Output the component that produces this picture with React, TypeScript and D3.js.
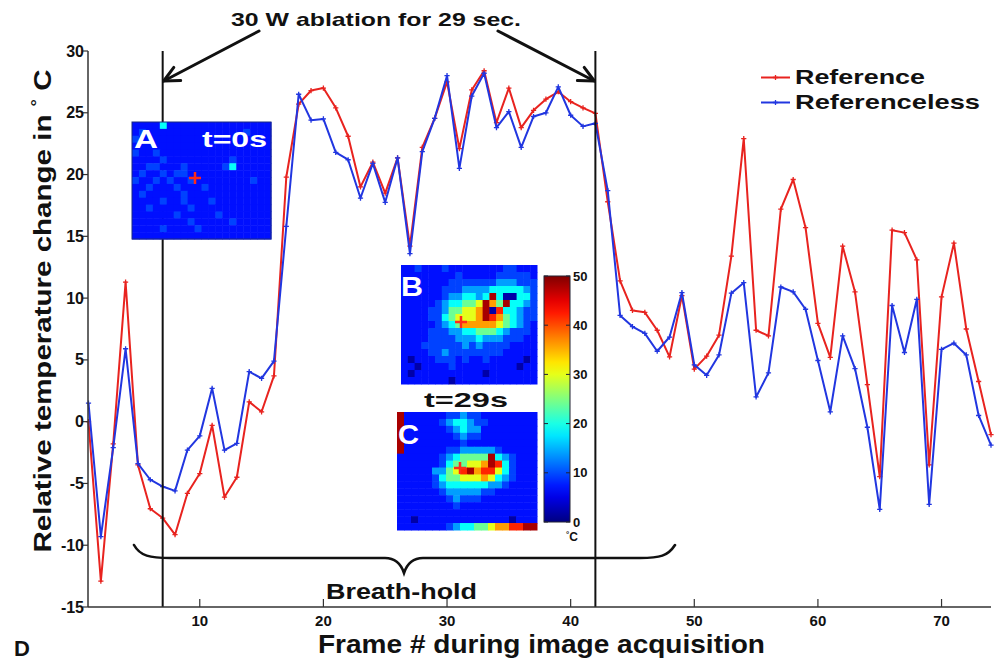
import React from "react";
import * as d3 from "d3";

// frame-by-frame temperature change (°C)
const reference = [
  0, -12.9, -1.8, 11.3, -3.5, -7.05, -7.8, -9.15, -5.8, -4.2,
  -0.3, -6.1, -4.5, 1.6, 0.8, 3.7, 19.8, 25.7, 26.8, 27.0,
  25.4, 23.1, 19.0, 21.0, 18.5, 21.35, 14.2, 22.2, 24.55, 27.5,
  22.1, 26.85, 28.4, 24.2, 27.0, 23.8, 25.2, 26.1, 26.7, 25.9,
  25.4, 24.95, 17.8, 11.4, 9.0, 8.85, 7.4, 5.25, 10.2, 4.25,
  5.3, 7.0, 13.4, 22.9, 7.4, 6.95, 17.2, 19.6, 15.7, 7.95,
  5.2, 14.2, 10.5, 3.0, -4.45, 15.5, 15.3, 13.1, -3.5, 10.1,
  14.45, 7.5, 3.25, -1.05,
];
const referenceless = [
  1.5, -9.3, -2.1, 5.9, -3.4, -4.7, -5.25, -5.6, -2.3, -1.15,
  2.7, -2.3, -1.75, 4.05, 3.5, 4.9, 15.8, 26.5, 24.4, 24.5,
  21.8, 21.2, 18.1, 20.9, 17.75, 21.35, 13.6, 21.85, 24.55, 28.0,
  20.5, 26.35, 28.2, 23.8, 25.1, 22.2, 24.7, 25.0, 27.1, 24.8,
  23.9, 24.15, 18.7, 8.6, 7.7, 7.15, 5.7, 6.85, 10.45, 4.6,
  3.75, 5.4, 10.4, 11.25, 2.0, 3.95, 10.9, 10.5, 9.1, 4.95,
  0.8, 6.95, 4.3, -0.45, -7.1, 9.4, 5.6, 9.9, -6.7, 5.85,
  6.35, 5.4, 0.5, -1.9,
];
const frames = reference.map((_, i) => i + 1);
const seriesNames = ["Reference", "Referenceless"];
const xTicks = [10, 20, 30, 40, 50, 60, 70];
const yTicks = [-15, -10, -5, 0, 5, 10, 15, 20, 25, 30];
const ablationFrames = [7, 42];
const colorbarTicks = [0, 10, 20, 30, 40, 50];

// temperature maps, one digit per pixel (index into codeTemps)
const codeTemps = [2, 7, 9.5, 14, 19, 24, 30, 36, 42, 48];
const mapA = [
  "11114111111111111111",
  "12111111111111112111",
  "21111111111111111111",
  "11111111111111111111",
  "21121111111111111111",
  "11112111111111211111",
  "11221112111112411111",
  "12112122111111111111",
  "21121211211111111211",
  "11211121112111111111",
  "12111112111111111111",
  "11112112111211111111",
  "11211111211111111111",
  "11111121111121111111",
  "11111111211111211111",
  "11112111121111111111",
  "11111111111111111111",
];
const mapB = [
  "11211121111111122111",
  "11111111211111222221",
  "11111112222222333222",
  "11111122233334444432",
  "11111123344349400442",
  "11111234455697594432",
  "11112235566790844322",
  "11112245666798754322",
  "11111234577777654321",
  "11112223344555432221",
  "11112222333433322211",
  "11122222232322221111",
  "11112232222222211111",
  "10111222121121111101",
  "11011112111111111011",
  "10111111111101111111",
  "11111110111111111111",
];
const mapC = [
  "91111112232211111111",
  "91111123443221111111",
  "91111112343311111111",
  "91111111232211111111",
  "91111111121111111111",
  "91111112233333211111",
  "11111123455559432111",
  "11111124556679842111",
  "11111335689788642111",
  "11111245566676432111",
  "11111234444443321111",
  "11111123333322111111",
  "11111112322211111111",
  "11111111211111111111",
  "11111111111111111111",
  "11011111111111110111",
  "11111112344556778899",
];

const W = 1003;
const H = 660;
const left = 88;
const right = 991;
const top = 51;
const bottom = 607;
const FONT = "Liberation Sans, Arial, Helvetica, sans-serif";
const RED = "#e8231f";
const BLUE = "#2136e0";

const jet = (t: number) => {
  const c = (v: number) => Math.max(0, Math.min(1, v));
  const r = c(1.5 - Math.abs(4 * t - 3));
  const g = c(1.5 - Math.abs(4 * t - 2));
  const b = c(1.5 - Math.abs(4 * t - 1));
  return d3.rgb(r * 255, g * 255, b * 255).toString();
};
const tempScale = d3.scaleLinear().domain([0, 50]).range([0, 1]).clamp(true);
const tempColor = (v: number) => jet(tempScale(v));

const Plus = ({ x, y, s, color, w }) => (
  <path d={`M${x - s},${y}H${x + s}M${x},${y - s}V${y + s}`} stroke={color} strokeWidth={w} />
);

const HeatMap = ({ grid, x, y, w, h }) => {
  const cols = d3.scaleBand().domain(d3.range(grid[0].length)).range([x, x + w]);
  const rows = d3.scaleBand().domain(d3.range(grid.length)).range([y, y + h]);
  return (
    <g>
      {grid.map((row, i) =>
        row.split("").map((ch, j) => (
          <rect
            key={`${i}-${j}`}
            x={cols(j)}
            y={rows(i)}
            width={cols.bandwidth() + 0.5}
            height={rows.bandwidth() + 0.5}
            fill={tempColor(codeTemps[+ch])}
          />
        ))
      )}
    </g>
  );
};

const Arrow = ({ x1, y1, x2, y2 }) => {
  const a = Math.atan2(y2 - y1, x2 - x1);
  const len = 17;
  const spread = 0.45;
  const p1 = [x2 - len * Math.cos(a - spread), y2 - len * Math.sin(a - spread)];
  const p2 = [x2 - len * Math.cos(a + spread), y2 - len * Math.sin(a + spread)];
  return (
    <g stroke="#111" strokeWidth={3} fill="none" strokeLinecap="round" strokeLinejoin="round">
      <line x1={x1} y1={y1} x2={x2} y2={y2} />
      <path d={`M${p1[0]},${p1[1]}L${x2},${y2}L${p2[0]},${p2[1]}`} />
    </g>
  );
};

export default function App() {
  const x = d3.scaleLinear().domain([1, 74]).range([left + 0.5, right]);
  const y = d3.scaleLinear().domain([-15, 30]).range([bottom, top]);
  const cbY = d3.scaleLinear().domain([0, 50]).range([522, 276]);

  const line = d3
    .line<number>()
    .x((_, i) => x(frames[i]))
    .y((d) => y(d));

  const series = [
    { name: seriesNames[0], values: reference, color: RED },
    { name: seriesNames[1], values: referenceless, color: BLUE },
  ];

  const gradStops = d3.range(0, 1.0001, 0.05);

  return (
    <svg
      width={W}
      height={H}
      style={{ position: "absolute", left: 0, top: 0, background: "#fff" }}
      fontFamily={FONT}
    >
      <defs>
        <linearGradient id="jet" x1="0" y1="1" x2="0" y2="0">
          {gradStops.map((t) => (
            <stop key={t} offset={t} stopColor={jet(t)} />
          ))}
        </linearGradient>
      </defs>

      {/* data */}
      {series.map((s) => (
        <g key={s.name}>
          <path d={line(s.values)} fill="none" stroke={s.color} strokeWidth={2} strokeLinejoin="round" />
          {s.values.map((v, i) => (
            <Plus key={i} x={x(frames[i])} y={y(v)} s={2.6} color={s.color} w={1.3} />
          ))}
        </g>
      ))}

      {/* ablation window */}
      {ablationFrames.map((f) => (
        <line key={f} x1={x(f)} x2={x(f)} y1={top} y2={bottom} stroke="#111" strokeWidth={2} />
      ))}

      {/* axes */}
      <line x1={left} x2={left} y1={top} y2={bottom} stroke="#333" strokeWidth={1.5} />
      <line x1={left} x2={right} y1={bottom} y2={bottom} stroke="#333" strokeWidth={1.5} />
      {yTicks.map((t) => (
        <g key={t}>
          <line x1={left - 5} x2={left} y1={y(t)} y2={y(t)} stroke="#333" strokeWidth={1.2} />
          <text x={left - 4} y={y(t) + 5.5} textAnchor="end" fontSize={16} fontWeight="bold" fill="#111">
            {t}
          </text>
        </g>
      ))}
      {xTicks.map((t) => (
        <g key={t}>
          <line x1={x(t)} x2={x(t)} y1={bottom} y2={bottom - 8} stroke="#333" strokeWidth={1.2} />
          <text x={x(t)} y={bottom + 19} textAnchor="middle" fontSize={15} fontWeight="bold" fill="#111">
            {t}
          </text>
        </g>
      ))}

      {/* axis labels */}
      <text
        transform="translate(51,311) rotate(-90)"
        textAnchor="middle"
        fontSize={24}
        fontWeight="bold"
        fill="#111"
        textLength={483}
        lengthAdjust="spacingAndGlyphs"
      >
        Relative temperature change in <tspan dy={-9} fontSize={15}>°</tspan>
        <tspan dy={9}> C</tspan>
      </text>
      <text x={318} y={653} fontSize={25} fontWeight="bold" fill="#111" textLength={447} lengthAdjust="spacingAndGlyphs">
        Frame # during image acquisition
      </text>
      <text x={14} y={656} fontSize={22} fontWeight="bold" fill="#111">
        D
      </text>

      {/* annotation: ablation */}
      <text x={231} y={26} fontSize={19} fontWeight="bold" fill="#111" textLength={290} lengthAdjust="spacingAndGlyphs">
        30 W ablation for 29 sec.
      </text>
      <Arrow x1={259} y1={31} x2={x(ablationFrames[0]) + 1} y2={81} />
      <Arrow x1={498} y1={31} x2={x(ablationFrames[1]) - 1} y2={81} />

      {/* breath-hold brace */}
      <path
        d="M134,545 C140,556 150,558 170,558 L385,558 C396,558 401,564 404,573 C407,564 412,558 423,558 L640,558 C660,558 668,556 675,545"
        fill="none"
        stroke="#111"
        strokeWidth={2.6}
        strokeLinecap="round"
      />
      <text x={326} y={599} fontSize={22} fontWeight="bold" fill="#111" textLength={151} lengthAdjust="spacingAndGlyphs">
        Breath-hold
      </text>

      {/* legend */}
      {series.map((s, i) => (
        <g key={s.name} transform={`translate(0,${i * 25})`}>
          <line x1={761} x2={790} y1={77.5} y2={77.5} stroke={s.color} strokeWidth={2} />
          <Plus x={775.5} y={77.5} s={2.6} color={s.color} w={1.3} />
          <text
            x={795}
            y={84}
            fontSize={21}
            fontWeight="bold"
            fill="#111"
            textLength={i === 0 ? 130 : 185}
            lengthAdjust="spacingAndGlyphs"
          >
            {s.name}
          </text>
        </g>
      ))}

      {/* inset A */}
      <HeatMap grid={mapA} x={132} y={122} w={139} h={117} />
      <rect x={132} y={122} width={139} height={117} fill="none" stroke="#1a2a80" strokeWidth={1} />
      <Plus x={195} y={178} s={6} color="#ff2a1a" w={2.5} />
      <text x={134} y={148} fontSize={25} fontWeight="bold" fill="#fff" textLength={24} lengthAdjust="spacingAndGlyphs">
        A
      </text>
      <text x={202} y={147} fontSize={22} fontWeight="bold" fill="#fff" textLength={65} lengthAdjust="spacingAndGlyphs">
        t=0s
      </text>

      {/* inset B */}
      <HeatMap grid={mapB} x={401} y={265} w={136} h={119} />
      <Plus x={461} y={322} s={6} color="#ff2a1a" w={2.5} />
      <text x={401} y={296} fontSize={27} fontWeight="bold" fill="#fff" textLength={22} lengthAdjust="spacingAndGlyphs">
        B
      </text>

      <text x={424} y={407} fontSize={21} fontWeight="bold" fill="#111" textLength={84} lengthAdjust="spacingAndGlyphs">
        t=29s
      </text>

      {/* inset C */}
      <HeatMap grid={mapC} x={397} y={412} w={140} h={118} />
      <Plus x={460} y={468} s={6} color="#ff2a1a" w={2.5} />
      <text x={398} y={444} fontSize={27} fontWeight="bold" fill="#fff" textLength={21} lengthAdjust="spacingAndGlyphs">
        C
      </text>

      {/* colorbar */}
      <rect x={544} y={cbY(50)} width={26} height={cbY(0) - cbY(50)} fill="url(#jet)" stroke="#223" strokeWidth={1} />
      {colorbarTicks.map((t) => (
        <g key={t}>
          <line x1={566} x2={570} y1={cbY(t)} y2={cbY(t)} stroke="#223" strokeWidth={1} />
          <line x1={544} x2={548} y1={cbY(t)} y2={cbY(t)} stroke="#223" strokeWidth={1} />
          <text x={573} y={cbY(t) + 4.5} fontSize={13} fontWeight="bold" fill="#111">
            {t}
          </text>
        </g>
      ))}
      <text x={566} y={541} fontSize={12} fontWeight="bold" fill="#111">
        <tspan fontSize={8} dy={-4}>°</tspan>
        <tspan dy={4}>C</tspan>
      </text>
    </svg>
  );
}
